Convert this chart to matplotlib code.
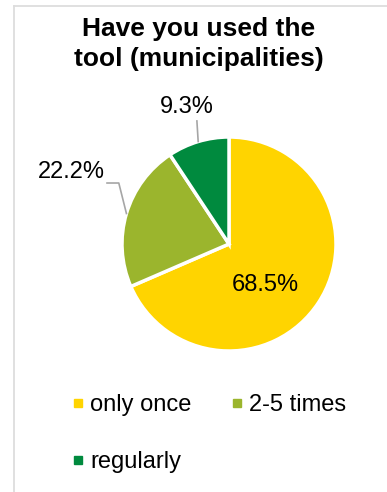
import numpy as np
import matplotlib
matplotlib.use("Agg")
import matplotlib.pyplot as plt
from matplotlib.lines import Line2D

plt.rcParams['font.family'] = ['Liberation Sans', 'DejaVu Sans']

title = "Have you used the\ntool (municipalities)"
categories = ["only once", "2-5 times", "regularly"]
shares = [68.5, 22.2, 9.3]
colors = ["#FFD400", "#9BB52D", "#008A3E"]

W, H = 387, 492
fig = plt.figure(figsize=(W / 100, H / 100), dpi=100)


def frac(x, y, w=0, h=0):
    # pixel box (top-left origin) -> figure fraction rect
    return [x / W, 1 - (y + h) / H, w / W, h / H]


# light frame on the top and left sides
fig.add_artist(Line2D([14 / W, 1], [1 - 6 / H] * 2, color="#DDDDDD", lw=1.3))
fig.add_artist(Line2D([14 / W] * 2, [0, 1 - 6 / H], color="#DDDDDD", lw=1.3))

fig.text(199 / W, 1 - 44 / H, title, ha="center", va="center",
         fontsize=19, fontweight="bold", linespacing=1.3)

ax = fig.add_axes(frac(122, 137, 214, 214))
wedges, _ = ax.pie(shares, colors=colors, startangle=90, counterclock=False,
                   wedgeprops=dict(edgecolor="white", linewidth=2.5))
ax.set_xlim(-1, 1)
ax.set_ylim(-1, 1)
ax.set_aspect("equal")
ax.axis("off")

# label placement: text position and leader-line elbows (pie data units)
label_layout = [
    dict(text=(0.34, -0.38), elbow=None),
    dict(text=(-1.47, 0.67), elbow=[(-1.03, 0.57), (-1.14, 0.57)]),
    dict(text=(-0.39, 1.28), elbow=[(-0.30, 1.0 + 0.15)]),
]

for w, v, lay in zip(wedges, shares, label_layout):
    ax.text(*lay["text"], f"{v:.1f}%", ha="center", va="center",
            fontsize=17, clip_on=False)
    if lay["elbow"]:
        mid = np.deg2rad((w.theta1 + w.theta2) / 2)
        pts = [(np.cos(mid), np.sin(mid))] + lay["elbow"]
        xs, ys = zip(*pts)
        ax.plot(xs, ys, color="#A6A6A6", lw=1.2, clip_on=False)

handles = [Line2D([], [], marker="s", ls="", color=c, markersize=5.5)
           for c in colors]
order = [0, 2, 1]
fig.legend([handles[i] for i in order], [categories[i] for i in order],
           loc="upper left", bbox_to_anchor=(72 / W, 1 - 394 / H),
           ncol=2, frameon=False, fontsize=17, borderpad=0,
           handlelength=0.5, handletextpad=0.26, labelspacing=1.5,
           columnspacing=1.7, borderaxespad=0)

fig.savefig("out.png", dpi=100)
